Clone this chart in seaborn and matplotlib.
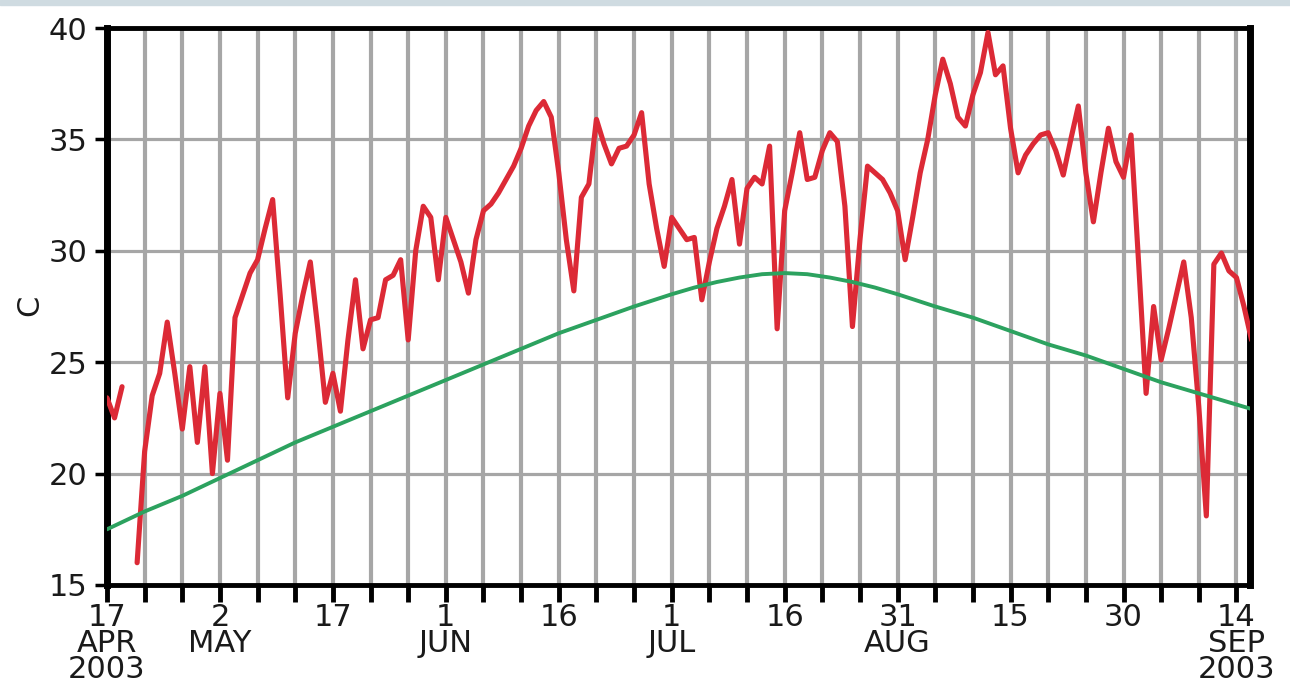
import numpy as np
import pandas as pd
import matplotlib
matplotlib.use("Agg")
import matplotlib.pyplot as plt
import seaborn as sns
from matplotlib.patches import Rectangle

# ---- data (days counted from 17 Apr 2003) ----
days = list(range(153))
temps = [
    23.4, 22.5, 23.9, np.nan, 16.0, 21.0, 23.5, 24.5, 26.8, 24.5,
    22.0, 24.8, 21.4, 24.8, 20.0, 23.6, 20.6, 27.0, 28.0, 29.0,
    29.6, 31.0, 32.3, 28.0, 23.4, 26.3, 28.0, 29.5, 26.5, 23.2,
    24.5, 22.8, 26.0, 28.7, 25.6, 26.9, 27.0, 28.7, 28.9, 29.6,
    26.0, 30.0, 32.0, 31.5, 28.7, 31.5, 30.5, 29.5, 28.1, 30.5,
    31.8, 32.1, 32.6, 33.2, 33.8, 34.6, 35.6, 36.3, 36.7, 36.0,
    33.5, 30.5, 28.2, 32.4, 33.0, 35.9, 34.8, 33.9, 34.6, 34.7,
    35.2, 36.2, 33.0, 31.0, 29.3, 31.5, 31.0, 30.5, 30.6, 27.8,
    29.5, 31.0, 32.0, 33.2, 30.3, 32.8, 33.3, 33.0, 34.7, 26.5,
    31.8, 33.5, 35.3, 33.2, 33.3, 34.5, 35.3, 34.9, 32.0, 26.6,
    30.5, 33.8, 33.5, 33.2, 32.6, 31.8, 29.6, 31.5, 33.5, 35.0,
    37.0, 38.6, 37.5, 36.0, 35.6, 37.0, 38.0, 39.8, 37.9, 38.3,
    35.5, 33.5, 34.3, 34.8, 35.2, 35.3, 34.5, 33.4, 35.0, 36.5,
    33.5, 31.3, 33.5, 35.5, 34.0, 33.3, 35.2, 29.5, 23.6, 27.5,
    25.1, 26.5, 28.0, 29.5, 27.0, 23.0, 18.1, 29.4, 29.9, 29.1,
    28.8, 27.5, 26.0,
]
clim_days = [0, 5, 10, 15, 20, 25, 30, 35, 40, 45, 50, 55, 60, 65, 70, 75,
             78, 81, 84, 87, 90, 93, 96, 99, 102, 105, 110, 115, 120, 125,
             130, 135, 140, 145, 150, 152]
clim_vals = [17.5, 18.3, 19.0, 19.8, 20.6, 21.4, 22.1, 22.8, 23.5, 24.2,
             24.9, 25.6, 26.3, 26.9, 27.5, 28.05, 28.35, 28.6, 28.8, 28.95,
             29.0, 28.95, 28.8, 28.6, 28.35, 28.05, 27.5, 27.0, 26.4, 25.8,
             25.3, 24.7, 24.1, 23.6, 23.1, 22.9]
tick_days = list(range(0, 151, 5))
label_days = [0, 15, 30, 45, 60, 75, 90, 105, 120, 135, 150]
tick_labels = ["17\nAPR\n2003", "2\nMAY", "17", "1\nJUN", "16", "1\nJUL",
               "16", "31\nAUG", "15", "30", "14\nSEP\n2003"]
y_ticks = [15, 20, 25, 30, 35, 40]
y_label = "C"

# ---- style ----
sns.set_theme(style="white")
plt.rcParams["font.family"] = ["DejaVu Sans"]
FS = 22

fig = plt.figure(figsize=(12.9, 6.86), dpi=100)
fig.patches.append(Rectangle((0, 1 - 5 / 686), 1, 5 / 686,
                             transform=fig.transFigure, color="#cfdbe1",
                             zorder=0))
ax = fig.add_axes([107 / 1290, 1 - 585 / 686, 1143 / 1290, 557 / 686])

seg = [0 if d < 3 else 1 for d in days]
df = pd.DataFrame({"day": days, "temp": temps, "seg": seg}).dropna()
sns.lineplot(data=df, x="day", y="temp", units="seg", estimator=None,
             color="#dc2a36", lw=3.7, ax=ax, zorder=3)
dfc = pd.DataFrame({"day": clim_days, "temp": clim_vals})
sns.lineplot(data=dfc, x="day", y="temp", color="#2ca25f", lw=2.8, ax=ax,
             zorder=4)

ax.set_xlim(0, 151.8)
ax.set_ylim(15, 40)
ax.set_axisbelow(True)

ax.set_xticks(tick_days)
lab_map = dict(zip(label_days, tick_labels))
ax.set_xticklabels([lab_map.get(d, "") for d in tick_days])
for t in ax.get_xticklabels():
    t.set_linespacing(0.86)
ax.set_yticks(y_ticks)
ax.set_yticklabels([str(v) for v in y_ticks])

ax.grid(axis="x", color="#a6a6a6", lw=3.0)
ax.grid(axis="y", color="#a6a6a6", lw=2.3)

ax.tick_params(axis="x", direction="out", length=12, width=3.5,
               color="black", pad=1, labelsize=FS, labelcolor="#1a1a1a",
               bottom=True)
ax.tick_params(axis="y", direction="out", length=9, width=2.5,
               color="black", pad=5, labelsize=FS, labelcolor="#1a1a1a",
               left=True)

for side, w in (("left", 5), ("right", 5), ("top", 3.5), ("bottom", 3.5)):
    ax.spines[side].set_visible(True)
    ax.spines[side].set_color("black")
    ax.spines[side].set_linewidth(w)

ax.set_xlabel("")
ax.set_ylabel(y_label, fontsize=FS, color="#1a1a1a")
ax.yaxis.set_label_coords(-0.055, 0.503)

fig.savefig("out.png", dpi=100)
